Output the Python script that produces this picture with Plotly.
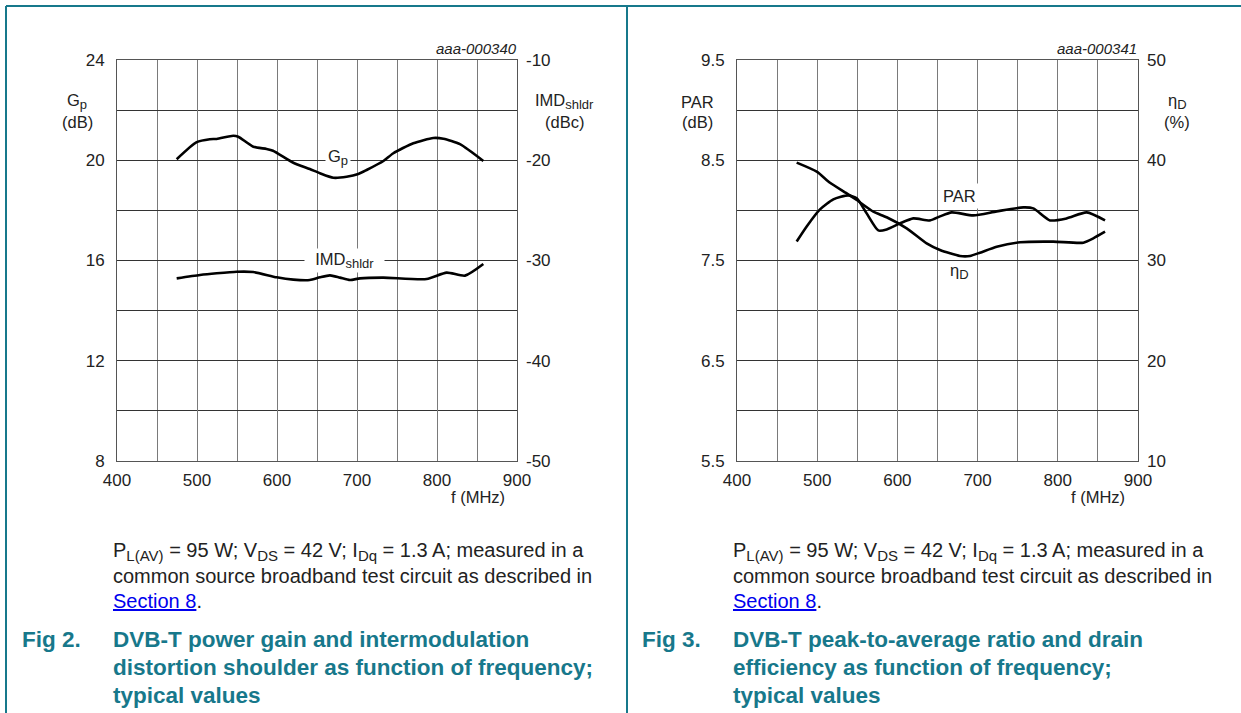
import plotly.graph_objects as go

W, H = 1241, 713

# ---------------- data ----------------
f_gp = [474.6, 499.6, 516, 524.6, 545.4, 551.6, 570.4, 587, 595, 620.4, 641, 653.7,
        670.4, 687, 701.6, 712, 733, 745.4, 770.4, 795.4, 808, 828.7, 857.9]
gp = [20.04, 20.72, 20.84, 20.85, 20.98, 20.94, 20.54, 20.45, 20.38, 19.90, 19.65, 19.48,
      19.30, 19.34, 19.45, 19.61, 19.97, 20.28, 20.68, 20.89, 20.86, 20.64, 19.97]

f_imd = [474.6, 503.7, 524.6, 549.6, 570.4, 599.6, 620.4, 641, 653.7, 666.2, 678.7, 691.2,
         703.7, 733, 787, 812, 835, 857.9]
imd = [-31.78, -31.45, -31.28, -31.12, -31.15, -31.68, -31.91, -31.95, -31.68, -31.48, -31.71, -31.95,
       -31.78, -31.71, -31.85, -31.21, -31.51, -30.35]

f_par = [474.4, 486.9, 503.5, 520.1, 538.8, 549.3, 561.7, 576.2, 586.6, 603.2, 619.8, 640.6,
         653.1, 667.7, 694.6, 723.8, 757, 769.5, 790.3, 811.1, 836, 858.9]
par = [7.69, 7.84, 8.01, 8.11, 8.15, 8.12, 7.97, 7.80, 7.81, 7.87, 7.92, 7.90,
       7.94, 7.98, 7.95, 7.99, 8.03, 8.02, 7.90, 7.92, 7.98, 7.90]

f_eta = [474.4, 499.4, 516, 536.8, 549.3, 570, 586.6, 611.6, 636.5, 653.1, 678, 690.5,
         703, 723.8, 752.9, 794.4, 831.8, 844.2, 858.9]
eta = [39.76, 38.86, 37.76, 36.70, 36.03, 34.87, 34.31, 33.21, 31.71, 31.05, 30.45, 30.45,
       30.78, 31.38, 31.82, 31.88, 31.78, 32.21, 32.87]

x_ticks = [400, 500, 600, 700, 800, 900]
gp_ticks = [8, 12, 16, 20, 24]
imd_ticks = [-50, -40, -30, -20, -10]
imd_labels = ["-50", "-40", "-30", "-20", "-10"]
par_ticks = [5.5, 6.5, 7.5, 8.5, 9.5]
eta_ticks = [10, 20, 30, 40, 50]

# ---------------- helpers ----------------
FONT = "Liberation Sans, Arial, sans-serif"
TEAL = "#17788b"
VGRID = "#7a7a7a"
HGRID = "#333333"


def px(x):
    return x / W


def py(y):
    return 1 - y / H


fig = go.Figure()

LINE = dict(color="black", width=2.6, shape="spline", smoothing=0.6)
fig.add_trace(go.Scatter(x=f_gp, y=gp, mode="lines", line=LINE, xaxis="x", yaxis="y",
                         showlegend=False, hoverinfo="skip"))
fig.add_trace(go.Scatter(x=f_imd, y=imd, mode="lines", line=LINE, xaxis="x", yaxis="y2",
                         showlegend=False, hoverinfo="skip"))
fig.add_trace(go.Scatter(x=f_par, y=par, mode="lines", line=LINE, xaxis="x2", yaxis="y3",
                         showlegend=False, hoverinfo="skip"))
fig.add_trace(go.Scatter(x=f_eta, y=eta, mode="lines", line=LINE, xaxis="x2", yaxis="y4",
                         showlegend=False, hoverinfo="skip"))

TICKFONT = dict(family=FONT, size=17, color="#222")
ydom = [py(461), py(60)]


def xax(dom, anchor):
    return dict(domain=dom, anchor=anchor, range=[400, 900], tickvals=x_ticks,
                showgrid=True, gridcolor=VGRID, gridwidth=1,
                minor=dict(dtick=50, tick0=400, showgrid=True, gridcolor=VGRID, gridwidth=1),
                showline=True, mirror=True, linecolor="#555", linewidth=1,
                zeroline=False, ticks="", tickfont=TICKFONT, ticklabelstandoff=4,
                automargin=False, fixedrange=True)


def yax(rng, tv, minor, anchor):
    return dict(domain=ydom, anchor=anchor, range=rng, tickvals=tv,
                showgrid=True, gridcolor=HGRID, gridwidth=1,
                minor=dict(dtick=minor, tick0=rng[0], showgrid=True, gridcolor=HGRID, gridwidth=1),
                showline=True, mirror=True, linecolor="#555", linewidth=1,
                zeroline=False, ticks="", tickfont=TICKFONT, ticklabelstandoff=8,
                automargin=False, fixedrange=True)


def yax_r(rng, tv, overlay, anchor, tt=None):
    d = dict(overlaying=overlay, side="right", anchor=anchor, range=rng, tickvals=tv,
             showgrid=False, zeroline=False, ticks="", showline=False,
             tickfont=TICKFONT, ticklabelstandoff=8, automargin=False, fixedrange=True)
    if tt is not None:
        d["ticktext"] = tt
    return d


fig.update_layout(
    width=W, height=H, autosize=False,
    margin=dict(l=0, r=0, t=0, b=0, pad=0, autoexpand=False),
    paper_bgcolor="white", plot_bgcolor="white",
    font=dict(family=FONT, color="#222"),
    xaxis=xax([px(117), px(517)], "y"),
    yaxis=yax([8, 24], gp_ticks, 2, "x"),
    yaxis2=yax_r([-50, -10], imd_ticks, "y", "x", imd_labels),
    xaxis2=xax([px(737), px(1138)], "y3"),
    yaxis3=yax([5.5, 9.5], par_ticks, 0.5, "x2"),
    yaxis4=yax_r([10, 50], eta_ticks, "y3", "x2"),
)

ann = []


def txt(x, y, t, size=16.5, xanchor="center", color="#222", **kw):
    ann.append(dict(x=px(x), y=py(y), xref="paper", yref="paper", text=t, showarrow=False,
                    xanchor=xanchor, yanchor="middle",
                    font=dict(family=FONT, size=size, color=color), **kw))


def sub(s, size=13):
    return "<sub><span style='font-size:%dpx'>%s</span></sub>" % (size, s)


# axis titles
txt(77, 102, "G" + sub("p"))
txt(77, 122, "(dB)")
txt(564, 102, "IMD" + sub("shldr"))
txt(564, 122, "(dBc)")
txt(697, 102, "PAR")
txt(697, 122, "(dB)")
txt(1177, 102, "η" + sub("D"))
txt(1177, 122, "(%)")
txt(478, 497, "f (MHz)")
txt(1098, 497, "f (MHz)")
txt(519, 48, "<i>aaa-000340</i>", size=15, xanchor="right")
txt(1139, 48, "<i>aaa-000341</i>", size=15, xanchor="right")

# in-chart curve labels (placed via data coordinates)
ann.append(dict(x=676, y=20.1, xref="x", yref="y", text="G" + sub("p"), showarrow=False,
                bgcolor="white", borderpad=2, font=dict(family=FONT, size=16.5, color="#222")))
ann.append(dict(x=684, y=16.0, xref="x", yref="y", text="  IMD" + sub("shldr") + "  ", showarrow=False,
                bgcolor="white", borderpad=1, font=dict(family=FONT, size=16.5, color="#222")))
ann.append(dict(x=677, y=8.14, xref="x2", yref="y3", text="PAR", showarrow=False,
                bgcolor="white", borderpad=3, font=dict(family=FONT, size=16.5, color="#222")))
ann.append(dict(x=677, y=7.39, xref="x2", yref="y3", text="η" + sub("D"), showarrow=False,
                font=dict(family=FONT, size=16.5, color="#222")))

# captions
for x0, fig_no, title_lines in [
    (111, "Fig 2.", ["DVB-T power gain and intermodulation",
                     "distortion shoulder as function of frequency;",
                     "typical values"]),
    (731, "Fig 3.", ["DVB-T peak-to-average ratio and drain",
                     "efficiency as function of frequency;",
                     "typical values"]),
]:
    txt(x0, 551, "P" + sub("L(AV)", 15) + " = 95 W; V" + sub("DS", 15) + " = 42 V; I" + sub("Dq", 15)
        + " = 1.3 A; measured in a", size=20, xanchor="left")
    txt(x0, 576, "common source broadband test circuit as described in", size=20, xanchor="left")
    txt(x0, 601, "<span style='color:#0000ee;text-decoration:underline'>Section 8</span>.",
        size=20, xanchor="left")
    txt(x0 - 91, 639, "<b>" + fig_no + "</b>", size=22.5, xanchor="left", color=TEAL)
    for i, line in enumerate(title_lines):
        txt(x0, 639 + 28 * i, "<b>" + line + "</b>", size=22.5, xanchor="left", color=TEAL)

fig.update_layout(annotations=ann)

# page frame lines
shapes = [
    dict(type="line", xref="paper", yref="paper", x0=px(6), x1=1, y0=py(6), y1=py(6),
         line=dict(color=TEAL, width=2)),
    dict(type="line", xref="paper", yref="paper", x0=px(6), x1=px(6), y0=py(6), y1=0,
         line=dict(color=TEAL, width=2)),
    dict(type="line", xref="paper", yref="paper", x0=px(627), x1=px(627), y0=py(6), y1=0,
         line=dict(color=TEAL, width=2)),
]
fig.update_layout(shapes=shapes)

fig.write_html("out.html", config={"displayModeBar": False},
               post_script="document.body.style.margin='0';document.body.style.overflow='hidden';")
